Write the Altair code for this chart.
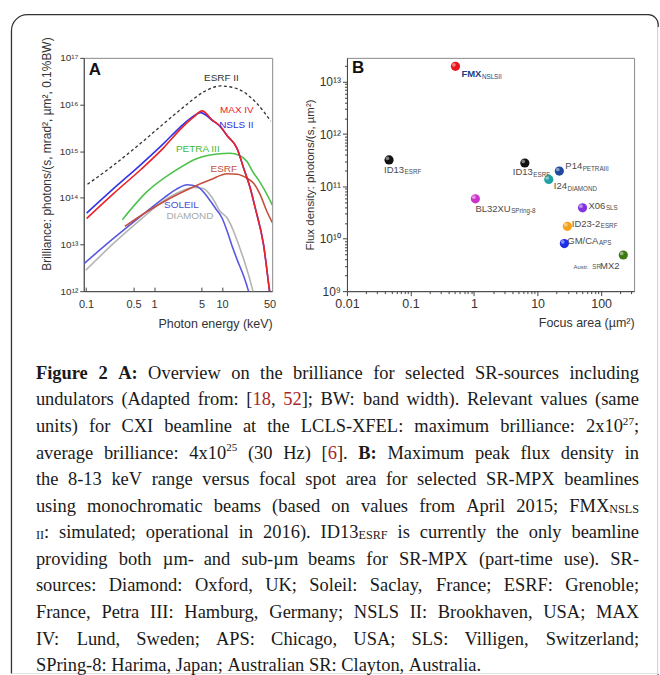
import math
import altair as alt
import pandas as pd

# ---------------- Panel A : brilliance curves (photon energy keV, brilliance) ----------------
ESRF2_E = [0.105, 0.258, 0.634, 1.39, 2.74, 5.37, 9.44, 16.6, 32.6, 52.0]
ESRF2_B = [1.95e14, 5.1e14, 1.47e15, 3.9e15, 8.9e15, 1.86e16, 2.5e16, 2.18e16, 1.05e16, 4.4e15]
MAX4_E = [0.102, 0.258, 0.634, 1.39, 2.45, 3.84, 5.09, 7.13, 9.44, 11.9, 16.6, 20.8, 26.0, 30.8, 40.7, 49.9, 53.0]
MAX4_B = [3.6e13, 1.26e14, 4.0e14, 1.19e15, 2.97e15, 5.4e15, 7.3e15, 4.7e15, 3.4e15, 2.15e15, 1.15e15,
          4.3e14, 1.6e14, 6.0e13, 1.0e13, 1.0e12, 5.0e11]
NSLS2_E = [0.102, 0.258, 0.634, 1.39, 2.45, 3.84, 4.81, 7.13, 9.44, 11.9, 16.6, 20.8, 26.0, 30.8, 40.7, 49.9, 53.0]
NSLS2_B = [4.7e13, 1.61e14, 5.1e14, 1.47e15, 3.33e15, 5.7e15, 6.7e15, 4.6e15, 3.33e15, 2.14e15, 1.15e15,
           4.3e14, 1.61e14, 6.0e13, 1.0e13, 1.0e12, 5.0e11]
PETRA_E = [0.342, 0.795, 1.95, 4.30, 8.45, 13.2, 17.5, 23.3, 29.1, 34.4, 40.7, 55.2]
PETRA_B = [3.4e13, 1.37e14, 3.65e14, 7.0e14, 8.7e14, 9.0e14, 8.3e14, 6.0e14, 3.4e14, 2.43e14, 1.61e14, 6.9e13]
ESRF_E = [0.373, 0.795, 1.75, 3.43, 6.73, 11.9, 16.6, 23.3, 29.1, 36.5, 45.7, 55.2]
ESRF_B = [2.45e13, 5.1e13, 9.9e13, 1.61e14, 2.43e14, 3.27e14, 3.2e14, 2.63e14, 2.06e14, 1.16e14, 5.1e13, 2.9e13]
SOLEIL_E = [0.0935, 0.258, 0.634, 1.39, 2.19, 3.07, 4.30, 6.02, 7.98, 10.0, 11.9, 13.8, 16.6, 20.8, 24.5, 27.5]
SOLEIL_B = [3.9e12, 1.38e13, 4.0e13, 9.9e13, 1.56e14, 1.9e14, 1.75e14, 1.07e14, 6.0e13, 3.7e13, 1.92e13,
            1.0e13, 4.8e12, 2.1e12, 1.0e12, 5.2e11]
DIAMOND_E = [0.099, 0.258, 0.634, 1.39, 2.45, 3.84, 5.37, 7.13, 9.44, 11.9, 14.8, 17.5, 22.0, 28.5, 31.8]
DIAMOND_B = [2.8e12, 1.08e13, 3.4e13, 8.7e13, 1.37e14, 1.67e14, 1.56e14, 1.02e14, 5.1e13, 3.7e13, 1.92e13,
             1.0e13, 3.75e12, 1.0e12, 5.2e11]

A_SERIES = [  # drawing order: name, E, B, colour, dashed
    ("DIAMOND", DIAMOND_E, DIAMOND_B, "#b4b4b4", False),
    ("SOLEIL", SOLEIL_E, SOLEIL_B, "#5858e0", False),
    ("ESRF", ESRF_E, ESRF_B, "#c4503c", False),
    ("PETRA III", PETRA_E, PETRA_B, "#4cc24c", False),
    ("NSLS II", NSLS2_E, NSLS2_B, "#3434e6", False),
    ("MAX IV", MAX4_E, MAX4_B, "#ec2228", False),
    ("ESRF II", ESRF2_E, ESRF2_B, "#333333", True),
]
A_LABELS = ["ESRF II", "MAX IV", "NSLS II", "PETRA III", "ESRF", "SOLEIL", "DIAMOND"]
A_LABEL_E = [9.8, 16.5, 16.2, 4.4, 10.6, 2.53, 3.37]
A_LABEL_B = [3.7e16, 7.7e15, 3.7e15, 1.13e15, 4.2e14, 6.9e13, 4.0e13]
A_LABEL_COLORS = ["#333333", "#ec2228", "#2f2fe0", "#3cba3c", "#c4503c", "#4b4bd6", "#a8a8a8"]
A_XTICKS = [0.1, 0.5, 1, 5, 10, 50]
A_YTICKS = [1e12, 1e13, 1e14, 1e15, 1e16, 1e17]
A_XDOMAIN = [0.0925, 54.6]
A_YDOMAIN = [1e12, 1e17]

# ---------------- Panel B : flux density vs focus area ----------------
B_NAMES = ["FMX", "ID13a", "BL32XU", "ID13b", "P14", "I24", "X06", "ID23-2", "GM/CA", "MX2"]
B_AREA = [0.51, 0.046, 1.05, 6.3, 22.0, 15.0, 51.0, 29.4, 26.4, 223.0]
B_FLUX = [1.96e13, 3.2e11, 5.8e10, 2.8e11, 1.96e11, 1.36e11, 3.9e10, 1.73e10, 8.1e9, 4.9e9]
B_COLORS = ["#e8161c", "#111111", "#cc33cc", "#111111", "#1f4aa0", "#20a2a2", "#8233e0", "#f5a21a",
            "#1f2ee8", "#3d7a12"]
B_MAIN = ["FMX", "ID13", "BL32XU", "ID13", "P14", "I24", "X06", "ID23-2", "GM/CA", "MX2"]
B_SUB = ["NSLSII", "ESRF", "SPring-8", "ESRF", "PETRAIII", "DIAMOND", "SLS", "ESRF", "APS", ""]
B_XDECADES = [0.01, 0.1, 1, 10, 100]
B_YDECADES = [1e9, 1e10, 1e11, 1e12, 1e13]
B_XDOMAIN = [0.01, 330]
B_YDOMAIN = [1e9, 2.85e13]

# label placement styles (pixel offsets from the dot)
B_STYLE = {
    "FMX": dict(dx=6, dy=8, sdy=10.5, bold=True, color="#22407f"),
    "ID13a": dict(dx=-5, dy=10, sdy=12.5),
    "BL32XU": dict(dx=0, dy=10, sdy=12.5),
    "ID13b": dict(dx=-12, dy=9.5, sdy=12),
    "P14": dict(dx=6, dy=-5, sdy=-2.5),
    "I24": dict(dx=5, dy=7, sdy=9.5),
    "X06": dict(dx=6, dy=-2, sdy=0.5),
    "ID23-2": dict(dx=4.5, dy=-2.5, sdy=0),
    "GM/CA": dict(dx=3, dy=-3, sdy=-0.5),
    "MX2": dict(dx=-23.3, dy=11, sdy=12.5),
}
SANS_W = {"I": .278, "D": .722, "1": .556, "3": .556, "P": .667, "4": .556, "2": .556, "B": .667,
          "L": .556, "X": .667, "U": .722, "0": .556, "6": .556, "-": .333, "G": .778, "M": .833,
          "/": .278, "C": .722, "A": .667, "F": .611}

# ---------------- Caption ----------------
CAPTION_LINES = [
    "*Figure 2 A:* Overview on the brilliance for selected SR-sources including",
    "undulators (Adapted from: [~18~, ~52~]; BW: band width). Relevant values (same",
    "units) for CXI beamline at the LCLS-XFEL: maximum brilliance: 2x10^27^;",
    "average brilliance: 4x10^25^ (30 Hz) [~6~]. *B:* Maximum peak flux density in",
    "the 8-13 keV range versus focal spot area for selected SR-MPX beamlines",
    "using monochromatic beams (based on values from April 2015; FMX_NSLS_",
    "_II_: simulated; operational in 2016). ID13_ESRF_ is currently the only beamline",
    "providing both µm- and sub-µm beams for SR-MPX (part-time use). SR-",
    "sources: Diamond: Oxford, UK; Soleil: Saclay, France; ESRF: Grenoble;",
    "France, Petra III: Hamburg, Germany; NSLS II: Brookhaven, USA; MAX",
    "IV: Lund, Sweden; APS: Chicago, USA; SLS: Villigen, Switzerland;",
    "SPring-8: Harima, Japan; Australian SR: Clayton, Australia.",
]

SANS = "Liberation Sans"
SERIF = "Liberation Serif"
DEC_TEST = "abs(log(datum.value)/LN10 - round(log(datum.value)/LN10)) < 1e-6"
SUP = str.maketrans("0123456789", "⁰¹²³⁴⁵⁶⁷⁸⁹")


def pow_expr(values):
    expr = "''"
    for v in values:
        k = round(math.log10(v))
        expr = f"datum.value == {v:.0e} ? '10{str(k).translate(SUP)}' : " + expr
    return expr


# ================= Panel A =================
A_W, A_H = 189, 234
A_X = alt.X("E:Q", scale=alt.Scale(type="log", domain=A_XDOMAIN, nice=False),
            axis=alt.Axis(values=A_XTICKS, labelExpr="format(datum.value, '~g')",
                          tickSize={"expr": "-4"}, labelPadding=11, labelFontSize=11,
                          title="Photon energy (keV)", titleAnchor="end", titleFontSize=12.5,
                          titlePadding=8))
A_Y = alt.Y("B:Q", scale=alt.Scale(type="log", domain=A_YDOMAIN, nice=False),
            axis=alt.Axis(values=A_YTICKS, labelExpr=pow_expr(A_YTICKS), tickSize=4,
                          labelPadding=2, labelFontSize=10,
                          title="Brilliance: photons/(s, mrad², µm², 0.1%BW)", titleFontSize=12,
                          titlePadding=6, titleY=96))

a_layers = []
for name, e, b, col, dashed in A_SERIES:
    kw = dict(color=col, strokeWidth=1.6, clip=True, interpolate="monotone")
    if dashed:
        kw.update(strokeDash=[3, 2.5], strokeWidth=1.3)
    a_layers.append(alt.Chart(pd.DataFrame({"E": e, "B": b})).mark_line(**kw).encode(x=A_X, y=A_Y))

a_lab = pd.DataFrame({"E": A_LABEL_E, "B": A_LABEL_B, "label": A_LABELS, "color": A_LABEL_COLORS})
a_layers.append(alt.Chart(a_lab).mark_text(font=SANS, fontSize=10, align="center", baseline="middle").encode(
    x=A_X, y=A_Y, text="label:N", color=alt.Color("color:N", scale=None, legend=None)))
a_layers.append(alt.Chart(pd.DataFrame({"t": ["A"]})).mark_text(
    font=SANS, fontSize=17, fontWeight="bold", align="left", baseline="top", color="#111").encode(
    text="t:N", x=alt.value(5), y=alt.value(4)))
panelA = alt.layer(*a_layers).properties(width=A_W, height=A_H)

# ================= Panel B =================
B_W, B_H = 288, 234
b_xvals = [d * m for d in B_XDECADES for m in range(1, 10)] + [200, 300]
b_yvals = [d * m for d in B_YDECADES[:-1] for m in range(1, 10)] + [1e13, 2e13]
tick_cond = {"condition": {"test": DEC_TEST, "value": 4.5}, "value": 2.5}
B_X = alt.X("area:Q", scale=alt.Scale(type="log", domain=B_XDOMAIN, nice=False),
            axis=alt.Axis(values=b_xvals, labelExpr=f"{DEC_TEST} ? format(datum.value, '~g') : ''",
                          tickSize=tick_cond, labelPadding=1.5, labelFontSize=12.5,
                          title="Focus area (µm²)", titleAnchor="end", titleFontSize=12.5, titlePadding=7))
B_Y = alt.Y("flux:Q", scale=alt.Scale(type="log", domain=B_YDOMAIN, nice=False),
            axis=alt.Axis(values=b_yvals, labelExpr=pow_expr(B_YDECADES), tickSize=tick_cond,
                          labelPadding=2, labelFontSize=12,
                          title="Flux density: photons/(s, µm²)", titleFontSize=11.5, titlePadding=4))

dfB = pd.DataFrame({"name": B_NAMES, "area": B_AREA, "flux": B_FLUX, "col": B_COLORS})
b_layers = [
    alt.Chart(dfB).mark_circle(size=85, opacity=1).encode(
        x=B_X, y=B_Y, color=alt.Color("col:N", scale=None, legend=None)),
    alt.Chart(dfB).mark_circle(size=14, opacity=0.45, color="white", xOffset=-1.6, yOffset=-1.6).encode(
        x=B_X, y=B_Y),
]
MAIN_FS, SUB_FS = 9.5, 6.3
for name, main, sub in zip(B_NAMES, B_MAIN, B_SUB):
    st = B_STYLE[name]
    col = st.get("color", "#4a4a4a")
    base = alt.Chart(dfB).transform_filter(alt.datum.name == name)
    b_layers.append(base.mark_text(font=SANS, fontSize=MAIN_FS, align="left", baseline="middle",
                                   fontWeight="bold" if st.get("bold") else "normal", color=col,
                                   dx=st["dx"], dy=st["dy"]).encode(x=B_X, y=B_Y, text=alt.value(main)))
    if sub:
        w = sum(SANS_W.get(c, 0.6) for c in main) * MAIN_FS
        b_layers.append(base.mark_text(font=SANS, fontSize=SUB_FS, align="left", baseline="middle",
                                       color=col, dx=st["dx"] + w + 0.5, dy=st["sdy"]).encode(
            x=B_X, y=B_Y, text=alt.value(sub)))
# "Austr. SR" prefix of MX2
mx = alt.Chart(dfB).transform_filter(alt.datum.name == "MX2")
b_layers.append(mx.mark_text(font=SANS, fontSize=6, align="left", baseline="middle", color="#555",
                             dx=-50, dy=12.5).encode(x=B_X, y=B_Y, text=alt.value("Austr.")))
b_layers.append(mx.mark_text(font=SANS, fontSize=6.3, align="left", baseline="middle", color="#555",
                             dx=-31, dy=12.5).encode(x=B_X, y=B_Y, text=alt.value("SR")))
b_layers.append(alt.Chart(pd.DataFrame({"t": ["B"]})).mark_text(
    font=SANS, fontSize=17, fontWeight="bold", align="left", baseline="top", color="#111").encode(
    text="t:N", x=alt.value(5), y=alt.value(2)))
panelB = alt.layer(*b_layers).properties(width=B_W, height=B_H)

# ================= Caption (justified text in pixel space) =================
REG_W = {}
for chars, wdt in [(" ,.", 0.25), ("ijlt:;/", 0.278), ("frI()[]-", 0.333), ("sJ", 0.389),
                   ("acez", 0.444), ("bdghknopquvxy0123456789µ", 0.5), ("FPS", 0.556),
                   ("ELTZ", 0.611), ("BCR", 0.667), ("ADGHKNOQUVXYw", 0.722), ("m", 0.778),
                   ("%", 0.833), ("M", 0.889), ("W", 0.944)]:
    for c in chars:
        REG_W[c] = wdt
BOLD_W = dict(REG_W)
BOLD_W.update({"u": 0.556, "r": 0.444, ":": 0.333, "A": 0.722, "B": 0.667, "F": 0.611})
MARK = {"*": "b", "~": "r", "^": "p", "_": "s"}
FS = 18.5
SCALE = {"n": 1.0, "b": 1.0, "r": 1.0, "p": 0.6, "s": 0.66}
SHIFT = {"n": 0, "b": 0, "r": 0, "p": -7.5, "s": 1.2}
INK, RED = "#1a1a1a", "#a8252a"
X0, X1, BASE0, LH = 35, 640, 378, 26.65
OX, OY = 83, 300  # origin of the caption view


def parse(line):
    words, cur, seg, style = [], [], "", "n"
    for ch in line:
        if ch in MARK:
            if seg:
                cur.append((seg, style))
                seg = ""
            style = "n" if style == MARK[ch] else MARK[ch]
        elif ch == " ":
            if seg:
                cur.append((seg, style))
                seg = ""
            if cur:
                words.append(cur)
                cur = []
        else:
            seg += ch
    if seg:
        cur.append((seg, style))
    if cur:
        words.append(cur)
    return words


def seg_w(t, s):
    tab = BOLD_W if s == "b" else REG_W
    return sum(tab.get(c, 0.5) for c in t) * FS * SCALE[s]


rows = []
for i, line in enumerate(CAPTION_LINES):
    words = parse(line)
    widths = [sum(seg_w(t, s) for t, s in w) for w in words]
    base = BASE0 + i * LH
    if i < len(CAPTION_LINES) - 1 and len(words) > 1:
        gap = (X1 - X0 - sum(widths)) / (len(words) - 1)
    else:
        gap = 0.25 * FS
    x = X0
    for w, wd in zip(words, widths):
        cx = x
        for t, s in w:
            rows.append(dict(x=cx - OX, y=base + SHIFT[s] - OY, t=t, size=FS * SCALE[s],
                             color=RED if s == "r" else INK, bold=(s == "b")))
            cx += seg_w(t, s)
        x += wd + gap
cap = pd.DataFrame(rows)

enc = dict(x=alt.X("x:Q", scale=None, axis=None), y=alt.Y("y:Q", scale=None, axis=None),
           text="t:N", size=alt.Size("size:Q", scale=None, legend=None),
           color=alt.Color("color:N", scale=None, legend=None))
one = pd.DataFrame({"a": [0]})
cap_layers = [
    alt.Chart(one).mark_rect(opacity=0).encode(
        x=alt.value(0 - OX), x2=alt.value(660 - OX), y=alt.value(0 - OY), y2=alt.value(675 - OY)),
    alt.Chart(one).mark_rect(fillOpacity=0, stroke="#333", strokeWidth=1.3,
                             cornerRadiusTopLeft=16, cornerRadiusTopRight=10).encode(
        x=alt.value(10.5 - OX), x2=alt.value(659.2 - OX), y=alt.value(12.7 - OY), y2=alt.value(674.3 - OY)),
    alt.Chart(one).mark_rule(color="white", strokeWidth=1.5).encode(
        x=alt.value(659.2 - OX), y=alt.value(25 - OY), y2=alt.value(674.2 - OY)),
    alt.Chart(one).mark_rule(color="white", strokeWidth=1.4).encode(
        x=alt.value(9 - OX), x2=alt.value(658.5 - OX), y=alt.value(674.3 - OY)),
    alt.Chart(cap[~cap.bold]).mark_text(align="left", baseline="alphabetic", font=SERIF).encode(**enc),
    alt.Chart(cap[cap.bold]).mark_text(align="left", baseline="alphabetic", font=SERIF,
                                       fontWeight="bold").encode(**enc),
]
caption = alt.layer(*cap_layers).properties(width=A_W, height=375,
                                            view=alt.ViewBackground(stroke="transparent"))

chart = alt.concat(panelA, panelB, caption, columns=2, spacing=alt.RowColnumber(row=10, column=75),
                   bounds="flush").properties(
    padding=0, background="white"
).configure_view(stroke="#8a8a8a", strokeWidth=1).configure_axis(
    labelFont=SANS, titleFont=SANS, grid=False, domainColor="#444", tickColor="#444",
    labelColor="#333", titleColor="#333", titleFontWeight="normal", labelFlush=False
)
chart.save("out.html", embed_options={"renderer": "svg", "actions": False})
